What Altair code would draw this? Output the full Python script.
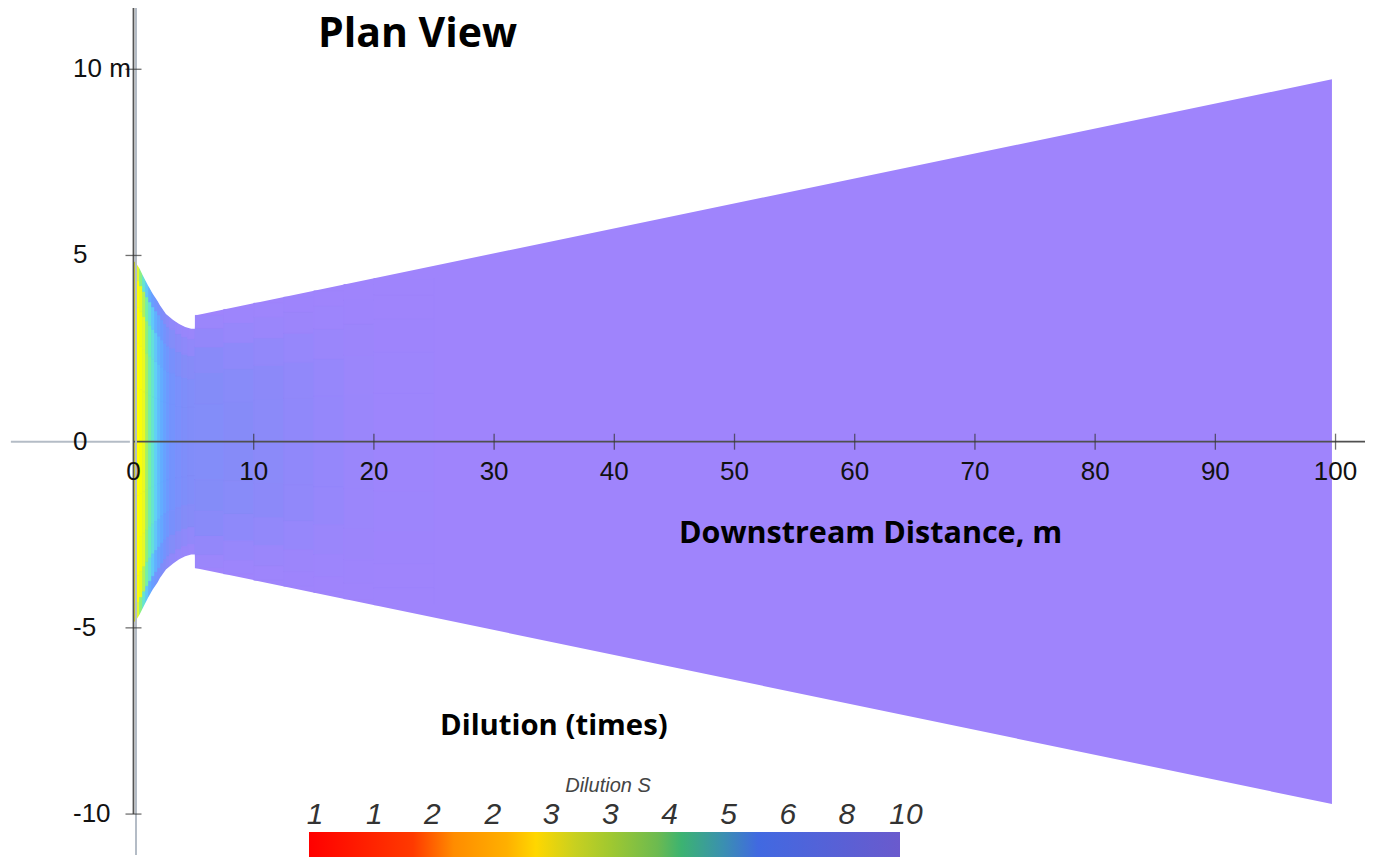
import altair as alt
import pandas as pd

# ---------------- data ----------------
# plume outline (half-width, m) along downstream distance (m)
edge_x = [0, 0.2, 0.5, 0.8, 1.2, 1.6, 2.0, 2.2, 2.7, 3.3, 3.8, 4.3, 4.8, 5.1, 5.12, 99.7]
edge_hw = [4.85, 4.8, 4.65, 4.45, 4.2, 3.97, 3.78, 3.66, 3.43, 3.27, 3.16, 3.08, 3.03, 3.03, 3.39, 9.73]

# dilution field: column edges (m), half-width used for the rows, row fractions of half-width
col_x0 = [0, 0.25, 0.5, 0.75, 1.0, 1.25, 1.5, 1.75, 2.0, 2.25, 2.5, 2.75, 3.0, 3.5, 4.0, 4.5,
          5.1, 7.5, 10, 12.5, 15, 17.5, 20]
col_x1 = [0.25, 0.5, 0.75, 1.0, 1.25, 1.5, 1.75, 2.0, 2.25, 2.5, 2.75, 3.0, 3.5, 4.0, 4.5, 5.1,
          7.5, 10, 12.5, 15, 17.5, 20, 25]
col_hw = [4.85, 4.8, 4.65, 4.48, 4.32, 4.17, 4.02, 3.9, 3.78, 3.64, 3.52, 3.42, 3.35, 3.22, 3.13, 3.07,
          3.39, 3.55, 3.72, 3.88, 4.05, 4.22, 4.38]
row_f0 = [0, 0.3, 0.55, 0.75, 0.9]
row_f1 = [0.3, 0.55, 0.75, 0.9, 1.0]
dilution = [
    [2.8, 2.8, 2.8, 2.8, 2.85],
    [2.8, 2.8, 2.8, 2.85, 3.1],
    [2.85, 2.85, 2.9, 3.0, 3.5],
    [3.0, 3.0, 3.05, 3.3, 4.0],
    [3.35, 3.35, 3.45, 3.7, 4.5],
    [3.7, 3.7, 3.8, 4.1, 5.0],
    [4.0, 4.0, 4.1, 4.5, 5.4],
    [4.35, 4.35, 4.5, 4.9, 5.8],
    [4.7, 4.7, 4.85, 5.3, 6.2],
    [5.0, 5.0, 5.15, 5.6, 6.6],
    [5.3, 5.3, 5.5, 6.0, 7.0],
    [5.6, 5.6, 5.8, 6.4, 7.4],
    [6.0, 6.0, 6.2, 6.9, 8.0],
    [6.3, 6.3, 6.6, 7.4, 8.5],
    [6.6, 6.6, 7.0, 7.8, 8.8],
    [6.8, 6.8, 7.2, 8.1, 9.0],
    [6.9, 7.0, 7.4, 8.3, 9.2],
    [7.2, 7.3, 7.8, 8.7, 9.5],
    [7.6, 7.7, 8.2, 9.0, 9.7],
    [8.0, 8.1, 8.6, 9.3, 9.8],
    [8.5, 8.6, 9.0, 9.6, 10.0],
    [9.0, 9.1, 9.4, 9.8, 10.0],
    [9.6, 9.6, 9.8, 10.0, 10.0],
]

# plume colour palette (dilution -> colour seen in the plume)
plume_dom = [2.8, 3.1, 3.4, 3.8, 4.3, 4.9, 5.5, 6.2, 7.0, 8.0, 9.0, 10.0]
plume_rng = ["#FFFF00", "#E0F830", "#98F070", "#68F0B8", "#60D4F4", "#60B0FF",
             "#6A9CFF", "#7890FC", "#848CF8", "#9088FA", "#9A86FB", "#9F84FC"]

# axes
x_ticks = [10, 20, 30, 40, 50, 60, 70, 80, 90, 100]
x_label_vals = [0, 10, 20, 30, 40, 50, 60, 70, 80, 90, 100]
x_labels = ["0", "10", "20", "30", "40", "50", "60", "70", "80", "90", "100"]
y_ticks = [10, 5, -5, -10]
y_label_vals = [10, 5, 0, -5, -10]
y_labels = ["10 m", "5", "0", "-5", "-10"]

# colour bar (log scale 1..10)
cb_vals = [1, 1.26, 1.58, 2.0, 2.51, 3.16, 3.98, 5.01, 6.31, 7.94, 10]
cb_labels = ["1", "1", "2", "2", "3", "3", "4", "5", "6", "8", "10"]
cb_offsets = [0, 0.176, 0.245, 0.335, 0.384, 0.45, 0.51, 0.59, 0.63, 0.70, 0.76, 1.0]
cb_colors = ["#FF0000", "#FF3A00", "#FF8C00", "#FFB000", "#FFD700", "#C8D020",
             "#A0C830", "#6CBA50", "#3CB371", "#3A90B0", "#4169E1", "#6A5ACD"]

# ---------------- tables ----------------
plume_df = pd.DataFrame({"x": edge_x, "yu": edge_hw, "yl": [-h for h in edge_hw]})
near = plume_df[plume_df["x"] <= 5.1]

rows = []
for c in range(len(col_x0)):
    for r in range(len(row_f0)):
        for s in (1, -1):
            rows.append({"x0": col_x0[c], "x1": col_x1[c],
                         "y0": s * row_f0[r] * col_hw[c], "y1": s * row_f1[r] * col_hw[c],
                         "D": dilution[c][r]})
cells_df = pd.DataFrame(rows)

xl_df = pd.DataFrame({"v": x_label_vals, "t": x_labels})
xt_df = pd.DataFrame({"v": x_ticks})
yl_df = pd.DataFrame({"v": y_label_vals, "t": y_labels})
yt_df = pd.DataFrame({"v": y_ticks})
cb_df = pd.DataFrame({"v": cb_vals, "t": cb_labels})
cbbar_df = pd.DataFrame({"lo": [cb_vals[0]], "hi": [cb_vals[-1]]})

# ---------------- scales ----------------
W, H = 1357, 849
X_DOM = [-10.44, 102.45]
Y_DOM = [-11.153, 11.645]


def xs():
    return alt.Scale(domain=X_DOM, nice=False, zero=False)


ys = alt.Scale(domain=Y_DOM, nice=False, zero=False)
cbs = alt.Scale(type="log", domain=[1, 10], range=[301, 892], nice=False)
dscale = alt.Scale(domain=plume_dom, range=plume_rng, interpolate="rgb")

plume = alt.Chart(plume_df).mark_area(color="#9F84FC").encode(
    x=alt.X("x:Q", scale=xs(), axis=None),
    y=alt.Y("yu:Q", scale=ys, axis=None),
    y2="yl:Q",
)

cells = alt.Chart(cells_df).mark_rect(strokeWidth=0.6).encode(
    x=alt.X("x0:Q", scale=xs(), axis=None),
    x2="x1:Q",
    y=alt.Y("y0:Q", scale=ys, axis=None),
    y2="y1:Q",
    fill=alt.Fill("D:Q", scale=dscale, legend=None),
    stroke=alt.Stroke("D:Q", scale=dscale, legend=None),
)

mask_up = alt.Chart(near).mark_area(color="white").encode(
    x=alt.X("x:Q", scale=xs(), axis=None),
    y=alt.Y("yu:Q", scale=ys, axis=None),
    y2=alt.datum(6),
)
mask_dn = alt.Chart(near).mark_area(color="white").encode(
    x=alt.X("x:Q", scale=xs(), axis=None),
    y=alt.Y("yl:Q", scale=ys, axis=None),
    y2=alt.datum(-6),
)

# axis lines
yline_light = alt.Chart().mark_rule(color="#B4BCC6", strokeWidth=2, xOffset=2.5).encode(
    x=alt.X(datum=0, scale=xs(), axis=None),
    y=alt.Y(datum=Y_DOM[1], scale=ys, axis=None),
    y2=alt.datum(-11.1),
)
yline_dark = alt.Chart().mark_rule(color="#555555", strokeWidth=1.8).encode(
    x=alt.X(datum=0, scale=xs(), axis=None),
    y=alt.Y(datum=Y_DOM[1], scale=ys, axis=None),
    y2=alt.datum(-10),
)
xline_light = alt.Chart().mark_rule(color="#B4BCC6", strokeWidth=2).encode(
    x=alt.X(datum=-10.2, scale=xs(), axis=None),
    x2=alt.datum(-0.3),
    y=alt.Y(datum=0, scale=ys, axis=None),
)
xline_dark = alt.Chart().mark_rule(color="#505050", strokeWidth=1.8).encode(
    x=alt.X(datum=0, scale=xs(), axis=None),
    x2=alt.datum(X_DOM[1]),
    y=alt.Y(datum=0, scale=ys, axis=None),
)

xticks = alt.Chart(xt_df).mark_tick(orient="vertical", size=16, thickness=1.3, color="#333333").encode(
    x=alt.X("v:Q", scale=xs(), axis=None),
    y=alt.Y(datum=0, scale=ys, axis=None),
)
yticks = alt.Chart(yt_df).mark_tick(orient="horizontal", size=16, thickness=1.3, color="#333333").encode(
    x=alt.X(datum=0, scale=xs(), axis=None),
    y=alt.Y("v:Q", scale=ys, axis=None),
)

TICK_FONT = "Liberation Sans"
xlabels = alt.Chart(xl_df).mark_text(font=TICK_FONT, fontSize=26, color="#111111",
                                     align="center", baseline="middle", dy=30).encode(
    x=alt.X("v:Q", scale=xs(), axis=None),
    y=alt.Y(datum=0, scale=ys, axis=None),
    text="t:N",
)
ylabels = alt.Chart(yl_df).mark_text(font=TICK_FONT, fontSize=26, color="#111111",
                                     align="left", baseline="middle").encode(
    x=alt.value(65),
    y=alt.Y("v:Q", scale=ys, axis=None),
    text="t:N",
)

TITLE_FONT = "Open Sans"
t_plan = alt.Chart().mark_text(text="Plan View", font=TITLE_FONT, fontSize=41, fontWeight="bold",
                               align="left", baseline="alphabetic", color="black").encode(
    x=alt.value(310), y=alt.value(39))
t_down = alt.Chart().mark_text(text="Downstream Distance, m", font=TITLE_FONT, fontSize=30.5,
                               fontWeight="bold", align="left", baseline="alphabetic",
                               color="black").encode(x=alt.value(671), y=alt.value(535))
t_dil = alt.Chart().mark_text(text="Dilution (times)", font=TITLE_FONT, fontSize=29.3,
                              fontWeight="bold", align="left", baseline="alphabetic",
                              color="black").encode(x=alt.value(432), y=alt.value(727))

# colour bar
grad = alt.Gradient(gradient="linear", x1=0, x2=1, y1=0, y2=0,
                    stops=[alt.GradientStop(color=c, offset=o) for c, o in zip(cb_colors, cb_offsets)])
cbar = alt.Chart(cbbar_df).mark_rect(color=grad).encode(
    x=alt.X("lo:Q", scale=cbs, axis=None),
    x2="hi:Q",
    y=alt.value(824),
    y2=alt.value(862),
)
CB_FONT = "Liberation Sans Narrow, Liberation Sans"
cb_text = alt.Chart(cb_df).mark_text(font=CB_FONT, fontSize=30, fontStyle="italic", color="#333333",
                                     align="center", baseline="middle", dx=6).encode(
    x=alt.X("v:Q", scale=cbs, axis=None),
    y=alt.value(807),
    text="t:N",
)
cb_title = alt.Chart().mark_text(text="Dilution S", font=TICK_FONT, fontSize=20, fontStyle="italic",
                                 color="#444444", align="center", baseline="middle").encode(
    x=alt.value(600), y=alt.value(778))

chart = alt.layer(
    plume, cells, mask_up, mask_dn,
    xline_light, xline_dark, yline_light, yline_dark, xticks, yticks,
    xlabels, ylabels, t_plan, t_down, t_dil, cbar, cb_text, cb_title,
).resolve_scale(x="independent").properties(
    width=W, height=H, padding=0, autosize=alt.AutoSizeParams(type="none")
).configure_view(stroke=None)

chart.save("out.html", embed_options={"renderer": "svg", "actions": False})
